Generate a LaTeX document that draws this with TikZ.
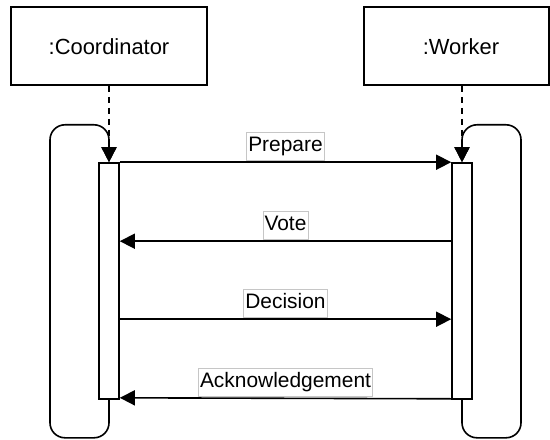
\documentclass[tikz,border=0pt]{standalone}
\usepackage{fontspec}
\setmainfont{Liberation Sans}
\usetikzlibrary{arrows.meta}
\begin{document}
\begin{tikzpicture}[x=1bp,y=-1bp,
  line width=1.6bp,
  objbox/.style={draw, rectangle, minimum height=78bp, inner sep=0pt},
  objtext/.style={font=\fontsize{22}{26}\selectfont, inner sep=0pt},
  actbar/.style={draw, fill=white, rectangle, minimum width=20bp, minimum height=236bp, inner sep=0pt},
  tip/.style={-{Triangle[length=15bp,width=15bp]}},
  msg/.style={tip},
  lifeline/.style={tip, dash pattern=on 6bp off 5bp},
  selfloop/.style={tip, rounded corners=15bp},
  msglabel/.style={draw=gray!45, line width=0.8bp, fill=white, anchor=south,
    font=\fontsize{21}{24}\selectfont, text height=15bp, text depth=5bp,
    inner xsep=1.5bp, inner ysep=4bp, yshift=1.5bp}]
\useasboundingbox (0,0) rectangle (550,440);

% participants
\node[objbox, minimum width=196bp] (coord) at (109,46) {};
\node[objtext] (coordtxt) at (109,47) {:Coordinator};
\node[objbox, minimum width=185bp] (worker) at (456.5,46) {};
\node[objtext] (workertxt) at (461,47) {:Worker};

% activation bars
\node[actbar] (ca) at (109,281) {};
\node[actbar] (wa) at (462,281) {};

% lifelines
\draw[lifeline] (coord.south) -- (ca.north);
\draw[lifeline] (wa.north |- worker.south) -- (wa.north);

% self loops around each activation
\draw[selfloop] (ca.south) -- ++(0,38) -- ++(-59,0) -- ++(0,-313) -- ++(59,0) -- (ca.north);
\draw[selfloop] (wa.south) -- ++(0,38) -- ++(59,0) -- ++(0,-313) -- ++(-59,0) -- (wa.north);

% messages
\draw[msg] (ca.north east) -- node[msglabel] {Prepare} (wa.north west);
\draw[msg] ([yshift=-79bp]wa.north west) -- node[msglabel] {Vote} ([yshift=-79bp]ca.north east);
\draw[msg] ([yshift=-157bp]ca.north east) -- node[msglabel] {Decision} ([yshift=-157bp]wa.north west);
\draw[msg] ([yshift=1bp]wa.south west) -- node[msglabel] {Acknowledgement} ([yshift=2bp]ca.south east);
\end{tikzpicture}
\end{document}
